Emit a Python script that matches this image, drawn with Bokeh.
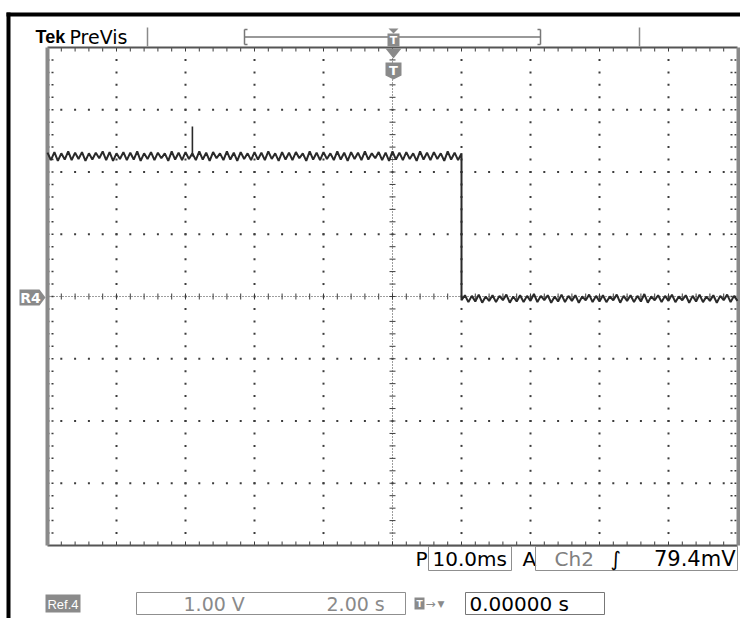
import numpy as np
from bokeh.plotting import figure
from bokeh.models import Range1d
from bokeh.embed import file_html
from bokeh.resources import INLINE
from bokeh.core.properties import value

# ---- acquisition (Ref4: 1.00 V/div, 2.00 s/div, trigger at t = 0) ----
SEC_PER_DIV = 2.0
VOLT_PER_DIV = 1.0
X_DIVS, Y_DIVS = 10, 8
SAMPLE_DT = 0.1

# high level before the falling edge, t = -10.0 .. 2.0 s
high_v = [
    2.31, 2.19, 2.32, 2.18, 2.30, 2.20, 2.33, 2.19, 2.31, 2.21,
    2.32, 2.18, 2.30, 2.20, 2.31, 2.22, 2.33, 2.19, 2.32, 2.18,
    2.30, 2.21, 2.32, 2.19, 2.31, 2.20, 2.33, 2.18, 2.30, 2.21,
    2.32, 2.19, 2.31, 2.22, 2.30, 2.18, 2.33, 2.20, 2.31, 2.19,
    2.32, 2.21, 2.30, 2.19, 2.33, 2.20, 2.31, 2.18, 2.32, 2.22,
    2.30, 2.19, 2.33, 2.20, 2.31, 2.18, 2.32, 2.21, 2.30, 2.19,
    2.32, 2.20, 2.31, 2.19, 2.33, 2.21, 2.30, 2.18, 2.32, 2.20,
    2.31, 2.19, 2.32, 2.22, 2.30, 2.18, 2.33, 2.20, 2.31, 2.19,
    2.32, 2.21, 2.30, 2.19, 2.33, 2.20, 2.31, 2.18, 2.32, 2.21,
    2.31, 2.19, 2.33, 2.20, 2.30, 2.22, 2.32, 2.19, 2.31, 2.18,
    2.33, 2.20, 2.31, 2.19, 2.32, 2.21, 2.30, 2.18, 2.33, 2.20,
    2.31, 2.19, 2.32, 2.21, 2.30, 2.18, 2.33, 2.20, 2.31, 2.19,
    2.30,
]
high_t0 = -10.0

# low level after the falling edge, t = 2.0 .. 10.0 s
low_v = [
    -0.06, 0.02, -0.09, 0.01, -0.08, 0.03, -0.10, 0.00, -0.07, 0.02,
    -0.09, 0.01, -0.06, 0.03, -0.10, 0.00, -0.08, 0.02, -0.09, 0.01,
    -0.07, 0.04, -0.09, 0.01, -0.06, 0.02, -0.10, 0.00, -0.08, 0.03,
    -0.09, 0.01, -0.07, 0.02, -0.10, 0.00, -0.06, 0.03, -0.09, 0.01,
    -0.08, 0.02, -0.09, 0.00, -0.06, 0.03, -0.10, 0.01, -0.07, 0.02,
    -0.09, 0.01, -0.08, 0.04, -0.10, 0.00, -0.06, 0.02, -0.09, 0.01,
    -0.07, 0.03, -0.09, 0.00, -0.06, 0.02, -0.10, 0.01, -0.08, 0.03,
    -0.09, 0.00, -0.07, 0.02, -0.10, 0.01, -0.06, 0.03, -0.09, 0.01,
    -0.07,
]
low_t0 = 2.0

# narrow glitch on the high level
glitch_t = -5.8
glitch_base_v = 2.25
glitch_peak_v = 2.73

# ---- canvas / graticule placement ----
W, H = 740, 618
GX0, GX1 = 47, 737
GY0, GY1 = 47, 545
px_per_s = (GX1 - GX0) / (X_DIVS * SEC_PER_DIV)
px_per_v = (GY1 - GY0) / (Y_DIVS * VOLT_PER_DIV)
CX = (GX0 + GX1) / 2
CY = (GY0 + GY1) / 2

XMAX = X_DIVS / 2 * SEC_PER_DIV
YMAX = Y_DIVS / 2 * VOLT_PER_DIV

p = figure(
    width=W, height=H,
    x_range=Range1d((0 - CX) / px_per_s, (W - CX) / px_per_s),
    y_range=Range1d((CY - H) / px_per_v, CY / px_per_v),
    x_axis_type=None, y_axis_type=None,
    output_backend="svg", toolbar_location=None,
    min_border=0, min_border_left=0, min_border_right=0,
    min_border_top=0, min_border_bottom=0,
)
p.outline_line_color = None
p.background_fill_color = "white"
p.border_fill_color = "white"
p.grid.visible = False
p.extra_x_ranges = {"px": Range1d(0, W)}
p.extra_y_ranges = {"px": Range1d(H, 0)}
PX = dict(x_range_name="px", y_range_name="px")

DOT = "#3c3c3c"
GREY = "#8a8a8a"


def txt(x, y, s, size, color="#000000", font="DejaVu Sans", style="normal",
        align="left"):
    # y is the vertical middle of the text line
    p.text(x=[x], y=[y], text=[s], text_font=value(font),
           text_font_size=f"{size}px", text_color=color, text_font_style=style,
           text_align=align, text_baseline="middle", **PX)


# ---- graticule ----
minor_x = SEC_PER_DIV / 5
minor_y = VOLT_PER_DIV / 5
xs_minor = [-XMAX + minor_x * k for k in range(1, X_DIVS * 5)]
ys_minor = [-YMAX + minor_y * k for k in range(1, Y_DIVS * 5)]

# dotted major lines
dx, dy = [], []
for i in range(1, X_DIVS):
    xv = -XMAX + i * SEC_PER_DIV
    if abs(xv) < 1e-9:
        continue
    dx += [xv] * len(ys_minor)
    dy += ys_minor
for j in range(1, Y_DIVS):
    yv = -YMAX + j * VOLT_PER_DIV
    if abs(yv) < 1e-9:
        continue
    dx += xs_minor
    dy += [yv] * len(xs_minor)
p.scatter(dx, dy, marker="square", size=2, fill_color=DOT, line_color=None)

# center cross with tick marks
p.line([0, 0], [-YMAX, YMAX], line_color=DOT, line_width=1, line_dash="1 2")
p.line([-XMAX, XMAX], [0, 0], line_color=DOT, line_width=1, line_dash="1 2")
tick_h = 3 / px_per_s
tick_v = 3 / px_per_v
p.segment(x0=[-tick_h] * len(ys_minor), x1=[tick_h] * len(ys_minor),
          y0=ys_minor, y1=ys_minor, line_color=DOT, line_width=1)
p.segment(x0=xs_minor, x1=xs_minor, y0=[-tick_v] * len(xs_minor),
          y1=[tick_v] * len(xs_minor), line_color=DOT, line_width=1)

# edge ticks
edge_h = 7 / px_per_s
edge_v = 4 / px_per_v
n = len(ys_minor)
p.segment(x0=[-XMAX] * n, x1=[-XMAX + edge_h] * n, y0=ys_minor, y1=ys_minor,
          line_color=DOT, line_width=1.5, line_dash="2 2")
p.segment(x0=[XMAX - edge_h] * n, x1=[XMAX] * n, y0=ys_minor, y1=ys_minor,
          line_color=DOT, line_width=1.5, line_dash="2 2")
m = len(xs_minor)
p.segment(x0=xs_minor, x1=xs_minor, y0=[YMAX] * m, y1=[YMAX - edge_v] * m,
          line_color=DOT, line_width=1)
p.segment(x0=xs_minor, x1=xs_minor, y0=[-YMAX] * m, y1=[-YMAX + edge_v] * m,
          line_color=DOT, line_width=1)

# frame
p.segment(x0=[-XMAX, -XMAX], x1=[XMAX, XMAX], y0=[YMAX, -YMAX], y1=[YMAX, -YMAX],
          line_color="#555555", line_width=2)
p.quad(left=[GX0 - 2, GX1 - 1], right=[GX0 + 2, W], top=[GY0, GY0],
       bottom=[GY1, GY1], fill_color=GREY, line_color=None, **PX)

# ---- waveform ----
t_high = [round(high_t0 + SAMPLE_DT * k, 2) for k in range(len(high_v))]
t_low = [round(low_t0 + SAMPLE_DT * k, 2) for k in range(len(low_v))]
p.line(t_high + t_low, high_v + low_v, line_color="#2a2a2a", line_width=2)
p.segment(x0=[glitch_t], x1=[glitch_t], y0=[glitch_base_v], y1=[glitch_peak_v],
          line_color="#2a2a2a", line_width=1.6)

# ---- window chrome ----
p.quad(left=[6, 6], right=[W, 10], top=[12, 12], bottom=[16, H],
       fill_color="black", line_color=None, **PX)
txt(35, 36, "Tek", 18, font="Liberation Sans", style="bold")
txt(69, 36, "PreVis", 19)
p.segment(x0=[147, 639], x1=[147, 639], y0=[27, 27], y1=[46, 46],
          line_color=GREY, line_width=1.5, **PX)

# record view bracket with trigger position
p.segment(x0=[244, 244, 244, 540, 537, 537],
          x1=[540, 244, 247, 540, 540, 540],
          y0=[36.5, 29, 29, 29, 29, 44],
          y1=[36.5, 44, 29, 44, 29, 44],
          line_color="#777777", line_width=1.5, **PX)
p.segment(x0=[244], x1=[247], y0=[44], y1=[44], line_color="#777777",
          line_width=1.5, **PX)
p.patch([388, 398, 393], [28, 28, 33], fill_color=GREY, line_color=None, **PX)
p.quad(left=[387], right=[399], top=[33], bottom=[46], fill_color=GREY,
       line_color=None, **PX)
txt(393, 40, "T", 11, color="white", style="bold", align="center")

# trigger marker on the graticule
p.patch([385, 401, 393], [48, 48, 58], fill_color=GREY, line_color=None, **PX)
p.patch([385, 401, 401, 393, 385], [62, 62, 75, 79, 75], fill_color=GREY,
        line_color=None, **PX)
txt(393, 70, "T", 13, color="white", style="bold", align="center")

# reference ground marker
p.patch([19, 39, 45, 39, 19], [289, 289, 297, 305, 305], fill_color=GREY,
        line_color=None, **PX)
txt(30, 297.5, "R4", 14, color="white", style="bold", align="center")

# ---- readouts ----
BOX = "#8f8f8f"
txt(415, 558, "P", 20)
p.quad(left=[428], right=[511], top=[546], bottom=[570], fill_color=None,
       line_color=BOX, **PX)
txt(432, 558, "10.0ms", 20)
txt(522, 558, "A", 20)
p.quad(left=[535], right=[737], top=[546], bottom=[570], fill_color=None,
       line_color=BOX, **PX)
txt(554, 558, "Ch2", 20, color="#808080")
txt(610, 558, "\u222b", 20)
txt(735, 558, "79.4mV", 21, align="right")

p.quad(left=[45], right=[80], top=[594], bottom=[612], fill_color=GREY,
       line_color=None, **PX)
txt(62.5, 603.5, "Ref.4", 13, color="white", font="Liberation Sans", align="center")
p.quad(left=[136], right=[405], top=[592], bottom=[614], fill_color=None,
       line_color=BOX, **PX)
txt(183, 603.5, "1.00 V", 19, color="#8a8a8a")
txt(326, 603.5, "2.00 s", 19, color="#8a8a8a")
p.quad(left=[414], right=[424], top=[597], bottom=[609], fill_color=GREY,
       line_color=None, **PX)
txt(419, 603.5, "T", 9, color="white", style="bold", align="center")
txt(425, 603, "\u2192", 12, color=GREY)
txt(437, 603, "\u25bc", 9, color=GREY)
p.quad(left=[465], right=[604], top=[592], bottom=[614], fill_color=None,
       line_color="#777777", **PX)
txt(469, 603.5, "0.00000 s", 20)

open("out.html", "w").write(file_html(p, INLINE))
